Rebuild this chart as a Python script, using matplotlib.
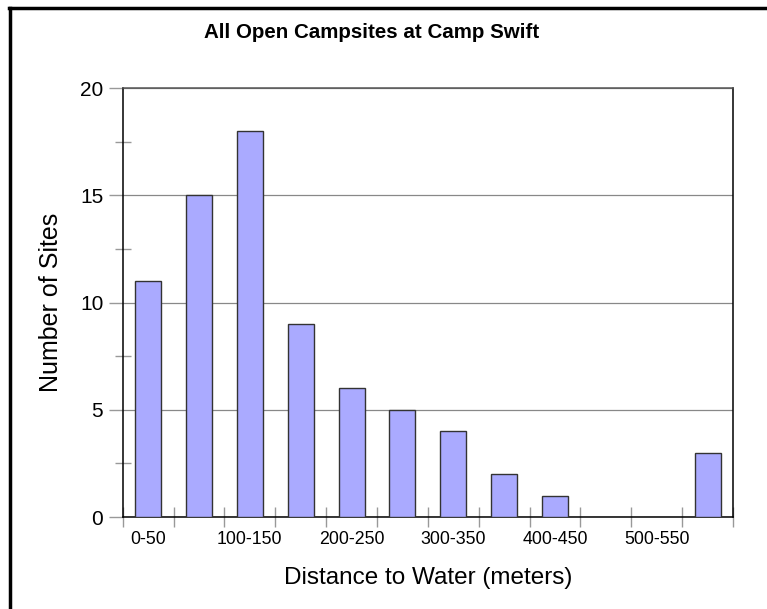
import matplotlib
matplotlib.use("Agg")
import matplotlib.pyplot as plt
from matplotlib.lines import Line2D
from matplotlib.ticker import MultipleLocator

# histogram bins (50 m wide) and counts
bins = ["0-50", "50-100", "100-150", "150-200", "200-250", "250-300",
        "300-350", "350-400", "400-450", "450-500", "500-550", "550-600"]
counts = [11, 15, 18, 9, 6, 5, 4, 2, 1, 0, 0, 3]
y_ticks = [0, 5, 10, 15, 20]

plt.rcParams["font.family"] = ["Liberation Sans", "DejaVu Sans"]

fig = plt.figure(figsize=(7.67, 6.09), dpi=100)
ax = fig.add_axes([0.16, 0.151, 0.7957, 0.7045])

pos = list(range(len(bins)))
ax.bar(pos, counts, width=0.51, color="#aaaaff", edgecolor="#333333", linewidth=1, zorder=3)

ax.set_xlim(-0.5, len(bins) - 0.5)
ax.set_ylim(0, 20)

# labels on every other bin, tick marks on bin edges
ax.set_xticks(pos[::2])
ax.set_xticklabels(bins[::2], fontsize=12.8)
ax.set_xticks([p - 0.5 for p in pos] + [len(bins) - 0.5], minor=True)
ax.tick_params(axis="x", which="major", length=0, pad=10)
ax.tick_params(axis="x", which="minor", direction="inout", length=14, width=1, color="#999999")

ax.set_yticks(y_ticks)
ax.set_yticklabels([str(v) for v in y_ticks], fontsize=15)
ax.yaxis.set_minor_locator(MultipleLocator(2.5))
ax.tick_params(axis="y", which="major", direction="out", length=10, width=1, color="#999999", pad=4)
ax.tick_params(axis="y", which="minor", direction="inout", length=11, width=1, color="#999999")

ax.grid(axis="y", which="major", color="#888888", linewidth=0.9, zorder=0)

for side in ["left", "bottom", "right"]:
    ax.spines[side].set_color("black")
    ax.spines[side].set_linewidth(1.1)
ax.spines["top"].set_color("#555555")
ax.spines["top"].set_linewidth(1.1)

ax.set_ylabel("Number of Sites", fontsize=18, labelpad=12)
ax.set_xlabel("Distance to Water (meters)", fontsize=17.5, labelpad=14)
fig.text(0.485, 0.946, "All Open Campsites at Camp Swift", fontsize=14.8,
         fontweight="bold", ha="center", va="center")

# outer frame: top and left edges only
fig.add_artist(Line2D([0.012, 1.0], [0.987, 0.987], color="black", linewidth=2.5,
                      transform=fig.transFigure))
fig.add_artist(Line2D([0.013, 0.013], [0.0, 0.987], color="black", linewidth=2.5,
                      transform=fig.transFigure))

fig.savefig("out.png", dpi=100)
